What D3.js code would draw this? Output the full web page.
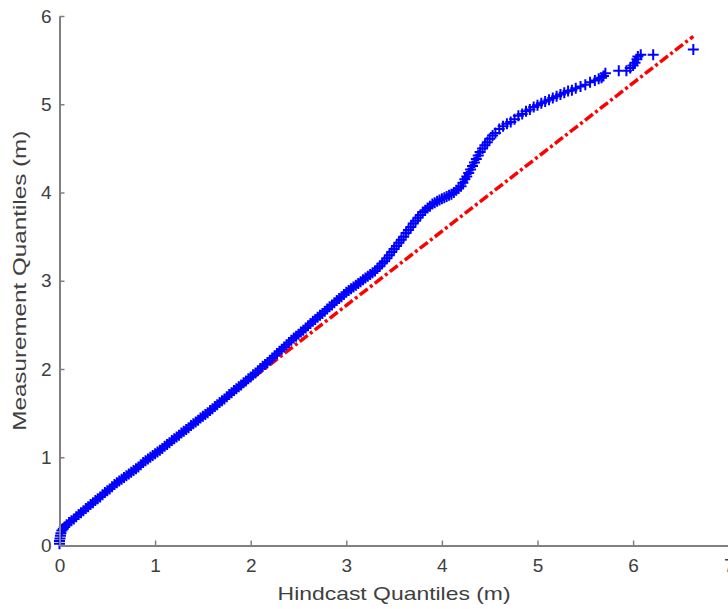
<!DOCTYPE html>
<html>
<head>
<meta charset="utf-8">
<script src="https://cdn.jsdelivr.net/npm/d3@7"></script>
<style>
  html, body { margin: 0; padding: 0; background: #fff; }
  svg { display: block; }
  text { font-family: "Liberation Sans", Arial, Helvetica, sans-serif; }
</style>
</head>
<body>
<script>
// ---- Data ----
const hindcastQ = [
  0, 0, 0.005, 0.01, 0.015, 0.025, 0.04, 0.055, 0.075, 0.10,
  0.125, 0.15, 0.175, 0.20, 0.225, 0.25, 0.275, 0.30, 0.325, 0.35, 0.375, 0.40,
  0.425, 0.45, 0.475, 0.50, 0.525, 0.55, 0.575, 0.60, 0.625, 0.65, 0.675, 0.70,
  0.725, 0.75, 0.775, 0.80, 0.825, 0.85, 0.875, 0.90, 0.925, 0.95, 0.975, 1.00,
  1.025, 1.05, 1.075, 1.10, 1.125, 1.15, 1.175, 1.20, 1.225, 1.25, 1.275, 1.30,
  1.325, 1.35, 1.375, 1.40, 1.425, 1.45, 1.475, 1.50, 1.525, 1.55, 1.575, 1.60,
  1.625, 1.65, 1.675, 1.70, 1.725, 1.75, 1.775, 1.80, 1.825, 1.85, 1.875, 1.90,
  1.925, 1.95, 1.975, 2.00, 2.025, 2.05, 2.075, 2.10, 2.125, 2.15, 2.175, 2.20,
  2.225, 2.25, 2.275, 2.30, 2.325, 2.35, 2.375, 2.40, 2.425, 2.45, 2.475, 2.50,
  2.525, 2.55, 2.575, 2.60, 2.625, 2.65, 2.675, 2.70, 2.725, 2.75, 2.775, 2.80,
  2.825, 2.85, 2.875, 2.90, 2.925, 2.95, 2.975, 3.00, 3.025, 3.05, 3.075, 3.10,
  3.125, 3.15, 3.175, 3.20, 3.225, 3.25, 3.275, 3.30, 3.325, 3.35, 3.375, 3.40,
  3.425, 3.45, 3.475, 3.50, 3.525, 3.55, 3.575, 3.60, 3.625, 3.65, 3.675, 3.70,
  3.725, 3.75, 3.775, 3.80, 3.825, 3.85, 3.875, 3.90, 3.925, 3.95, 3.975, 4.00,
  4.025, 4.05, 4.075, 4.10, 4.125, 4.15, 4.175, 4.20, 4.22, 4.24, 4.26, 4.28,
  4.30, 4.32, 4.34, 4.36, 4.38, 4.40, 4.425, 4.45, 4.475, 4.50, 4.53, 4.56, 4.60,
  4.64, 4.68, 4.72, 4.76, 4.80, 4.84, 4.88, 4.92, 4.96, 5.00, 5.04, 5.08, 5.12,
  5.16, 5.20, 5.24, 5.28, 5.32, 5.36, 5.40, 5.45, 5.50, 5.55, 5.60, 5.64, 5.67,
  5.69, 5.71, 5.85, 5.93, 5.97, 6.00, 6.02, 6.04, 6.05, 6.08, 6.21, 6.63
];
const measurementQ = [
  0.02, 0.05, 0.08, 0.11, 0.14, 0.17, 0.19, 0.21, 0.235, 0.26,
  0.28, 0.30, 0.325, 0.35, 0.37, 0.395, 0.42, 0.44, 0.465, 0.485, 0.51, 0.53,
  0.55, 0.575, 0.60, 0.62, 0.64, 0.665, 0.69, 0.71, 0.73, 0.75, 0.77, 0.79,
  0.81, 0.83, 0.85, 0.87, 0.89, 0.915, 0.94, 0.96, 0.98, 1.00, 1.02, 1.04,
  1.06, 1.08, 1.10, 1.125, 1.145, 1.165, 1.19, 1.21, 1.23, 1.25, 1.275, 1.295,
  1.315, 1.335, 1.36, 1.38, 1.40, 1.42, 1.445, 1.465, 1.485, 1.505, 1.53, 1.55,
  1.575, 1.595, 1.62, 1.64, 1.66, 1.685, 1.71, 1.73, 1.755, 1.775, 1.80, 1.82,
  1.845, 1.865, 1.89, 1.91, 1.935, 1.955, 1.98, 2.005, 2.03, 2.05, 2.075, 2.10,
  2.125, 2.15, 2.175, 2.20, 2.225, 2.25, 2.275, 2.30, 2.325, 2.35, 2.37, 2.395,
  2.42, 2.44, 2.465, 2.49, 2.515, 2.54, 2.56, 2.585, 2.61, 2.63, 2.655, 2.68,
  2.705, 2.725, 2.75, 2.775, 2.80, 2.82, 2.845, 2.87, 2.89, 2.91, 2.93, 2.95,
  2.97, 2.99, 3.01, 3.03, 3.05, 3.07, 3.09, 3.11, 3.14, 3.165, 3.195, 3.22,
  3.255, 3.29, 3.325, 3.36, 3.395, 3.43, 3.465, 3.50, 3.54, 3.575, 3.61, 3.65,
  3.68, 3.715, 3.745, 3.78, 3.80, 3.825, 3.845, 3.87, 3.885, 3.90, 3.915, 3.93,
  3.94, 3.955, 3.97, 3.98, 4.00, 4.025, 4.045, 4.07, 4.11, 4.15, 4.18, 4.22,
  4.26, 4.30, 4.34, 4.38, 4.42, 4.46, 4.50, 4.535, 4.57, 4.61, 4.645, 4.675, 4.72,
  4.75, 4.78, 4.80, 4.83, 4.87, 4.89, 4.92, 4.94, 4.97, 4.99, 5.01, 5.03, 5.05,
  5.07, 5.09, 5.11, 5.13, 5.15, 5.16, 5.18, 5.20, 5.22, 5.25, 5.27, 5.29, 5.30,
  5.32, 5.35, 5.38, 5.38, 5.41, 5.44, 5.47, 5.51, 5.54, 5.56, 5.56, 5.62
];
// Reference line (through quartiles, extended to data range)
const refLineX = [0, 6.63];
const refLineY = [0.20, 5.77];
const xTicks = [0, 1, 2, 3, 4, 5, 6, 7];
const yTicks = [0, 1, 2, 3, 4, 5, 6];
const xTitle = "Hindcast Quantiles (m)";
const yTitle = "Measurement Quantiles (m)";

// ---- Drawing ----
const W = 728, H = 609;
const svg = d3.select("body").append("svg").attr("width", W).attr("height", H);

const x = d3.scaleLinear().domain([0, 7]).range([59.5, 728.7]);
const y = d3.scaleLinear().domain([0, 6]).range([545.5, 16]);

const axisColor = "#808080";
const textColor = "#404040";

// reference line
svg.append("line")
  .attr("x1", x(refLineX[0])).attr("y1", y(refLineY[0]))
  .attr("x2", x(refLineX[1])).attr("y2", y(refLineY[1]))
  .attr("stroke", "#ff0000").attr("stroke-width", 3.5)
  .attr("stroke-dasharray", "10,3,3,3");

// plus markers
const pts = hindcastQ.map((v, i) => [v, measurementQ[i]]);
const s = 5.5;
svg.append("path")
  .attr("d", pts.map(p => {
    const cx = x(p[0]), cy = y(p[1]);
    return `M${cx - s},${cy}H${cx + s}M${cx},${cy - s}V${cy + s}`;
  }).join(""))
  .attr("stroke", "#0000ff").attr("stroke-width", 2).attr("fill", "none");

// axes
const xAxis = d3.axisBottom(x).tickValues(xTicks).tickFormat(d3.format("d"))
  .tickSizeInner(-5).tickSizeOuter(0).tickPadding(13);
const yAxis = d3.axisLeft(y).tickValues(yTicks).tickFormat(d3.format("d"))
  .tickSizeInner(-5).tickSizeOuter(0).tickPadding(8);

const gx = svg.append("g").attr("transform", `translate(0,${y(0)})`).call(xAxis);
const gy = svg.append("g").attr("transform", `translate(${x(0)},0)`).call(yAxis);

[gx, gy].forEach(g => {
  g.select(".domain").attr("stroke", axisColor).attr("stroke-width", 2);
  g.selectAll(".tick line").attr("stroke", axisColor).attr("stroke-width", 1.5);
  g.selectAll(".tick text").attr("fill", textColor)
    .style("font-size", "19px")
    .style("font-family", "'Liberation Sans', Arial, Helvetica, sans-serif");
});

// titles
svg.append("text")
  .attr("x", (x(0) + x(7)) / 2).attr("y", 600)
  .attr("text-anchor", "middle")
  .attr("textLength", 233).attr("lengthAdjust", "spacingAndGlyphs")
  .attr("fill", textColor).style("font-size", "19px")
  .text(xTitle);

svg.append("text")
  .attr("transform", `translate(26,${(y(0) + y(6)) / 2}) rotate(-90)`)
  .attr("text-anchor", "middle")
  .attr("textLength", 300).attr("lengthAdjust", "spacingAndGlyphs")
  .attr("fill", textColor).style("font-size", "19px")
  .text(yTitle);
</script>
</body>
</html>
